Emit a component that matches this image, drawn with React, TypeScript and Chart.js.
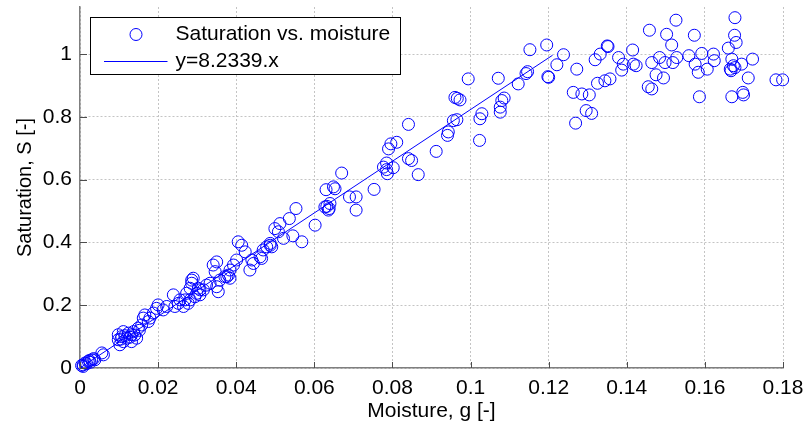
import React, { useEffect, useRef } from "react";
import { Chart, registerables } from "chart.js";

Chart.register(...registerables);

// Data
const moisture: number[] = [
  0.0004, 0.0008, 0.0008, 0.0013, 0.0017, 0.0021, 0.0024, 0.0026, 0.0030, 0.0035,
  0.0038, 0.0056, 0.0060, 0.0098, 0.0098, 0.0102, 0.0105, 0.0107, 0.0111, 0.0111,
  0.0115, 0.0120, 0.0124, 0.0128, 0.0132, 0.0132, 0.0137, 0.0140, 0.0145, 0.0149,
  0.0152, 0.0158, 0.0162, 0.0166, 0.0175, 0.0179, 0.0188, 0.0196, 0.0200, 0.0213,
  0.0222, 0.0239, 0.0243, 0.0252, 0.0256, 0.0265, 0.0269, 0.0273, 0.0277, 0.0282,
  0.0282, 0.0286, 0.0286, 0.0290, 0.0294, 0.0299, 0.0303, 0.0307, 0.0307, 0.0316,
  0.0324, 0.0333, 0.0341, 0.0346, 0.0350, 0.0350, 0.0354, 0.0358, 0.0371, 0.0376,
  0.0380, 0.0384, 0.0384, 0.0393, 0.0401, 0.0405, 0.0414, 0.0423, 0.0435, 0.0440,
  0.0444, 0.0461, 0.0465, 0.0469, 0.0478, 0.0487, 0.0487, 0.0491, 0.0499, 0.0508,
  0.0512, 0.0521, 0.0536, 0.0545, 0.0553, 0.0568, 0.0602, 0.0627, 0.0630, 0.0632,
  0.0636, 0.0638, 0.0640, 0.0649, 0.0653, 0.0670, 0.0690, 0.0707, 0.0707, 0.0753,
  0.0777, 0.0785, 0.0787, 0.0785, 0.0802, 0.0790, 0.0796, 0.0811, 0.0841, 0.0841,
  0.0849, 0.0866, 0.0912, 0.0941, 0.0943, 0.0956, 0.0965, 0.0960, 0.0966, 0.0973,
  0.0994, 0.1023, 0.1024, 0.1029, 0.1071, 0.1076, 0.1076, 0.1080, 0.1086, 0.1122,
  0.1142, 0.1146, 0.1152, 0.1195, 0.1198, 0.1200, 0.1221, 0.1238, 0.1272, 0.1263,
  0.1285, 0.1304, 0.1296, 0.1310, 0.1269, 0.1319, 0.1332, 0.1350, 0.1352, 0.1325,
  0.1344, 0.1357, 0.1379, 0.1391, 0.1387, 0.1415, 0.1424, 0.1417, 0.1458, 0.1464,
  0.1455, 0.1464, 0.1475, 0.1484, 0.1494, 0.1498, 0.1502, 0.1515, 0.1518, 0.1526,
  0.1528, 0.1559, 0.1573, 0.1575, 0.1583, 0.1586, 0.1592, 0.1606, 0.1622, 0.1624,
  0.1660, 0.1665, 0.1669, 0.1667, 0.1673, 0.1676, 0.1680, 0.1677, 0.1677, 0.1669,
  0.1694, 0.1697, 0.1699, 0.1711, 0.1722, 0.1782, 0.1799,
];

const saturation: number[] = [
  0.008, 0.005, 0.010, 0.016, 0.014, 0.021, 0.024, 0.018, 0.026, 0.030,
  0.026, 0.048, 0.042, 0.090, 0.106, 0.074, 0.092, 0.100, 0.084, 0.116,
  0.103, 0.095, 0.111, 0.098, 0.084, 0.106, 0.116, 0.105, 0.095, 0.127,
  0.120, 0.137, 0.159, 0.169, 0.148, 0.159, 0.175, 0.190, 0.201, 0.185,
  0.196, 0.233, 0.196, 0.206, 0.217, 0.196, 0.217, 0.238, 0.206, 0.217,
  0.254, 0.270, 0.280, 0.286, 0.227, 0.238, 0.254, 0.233, 0.249, 0.249,
  0.264, 0.270, 0.328, 0.307, 0.338, 0.259, 0.243, 0.280, 0.291, 0.291,
  0.296, 0.286, 0.312, 0.328, 0.344, 0.402, 0.391, 0.370, 0.312, 0.344,
  0.333, 0.354, 0.349, 0.376, 0.386, 0.397, 0.391, 0.386, 0.444, 0.434,
  0.460, 0.413, 0.476, 0.421, 0.508, 0.402, 0.455, 0.513, 0.568, 0.515,
  0.503, 0.508, 0.524, 0.577, 0.571, 0.621, 0.545, 0.545, 0.503, 0.569,
  0.640, 0.632, 0.619, 0.653, 0.638, 0.698, 0.714, 0.719, 0.776, 0.667,
  0.661, 0.616, 0.690, 0.741, 0.752, 0.788, 0.791, 0.862, 0.859, 0.854,
  0.921, 0.725, 0.794, 0.810, 0.923, 0.815, 0.831, 0.852, 0.860, 0.905,
  0.938, 0.944, 1.014, 1.029, 0.928, 0.926, 0.966, 0.998, 0.952, 0.878,
  0.873, 0.870, 0.820, 0.811, 0.780, 0.982, 1.000, 1.026, 1.024, 0.907,
  0.915, 0.921, 0.989, 0.968, 0.949, 1.013, 0.963, 0.968, 1.076, 0.973,
  0.896, 0.889, 0.934, 0.989, 0.924, 0.973, 1.063, 1.029, 0.973, 1.108,
  0.989, 0.995, 1.060, 0.968, 0.942, 0.864, 1.002, 0.952, 1.000, 0.979,
  1.019, 0.952, 0.984, 0.947, 0.963, 1.060, 1.037, 1.116, 0.957, 0.864,
  0.968, 0.878, 0.870, 0.924, 0.984, 0.918, 0.918,
];

const fitSlope = 8.2339;
const fitRange: number[] = [0, 0.121];

const xTickValues: number[] = [0, 0.02, 0.04, 0.06, 0.08, 0.1, 0.12, 0.14, 0.16, 0.18];
const yTickValues: number[] = [0, 0.2, 0.4, 0.6, 0.8, 1];

const scatterLabel = "Saturation vs. moisture";
const fitLabel = "y=8.2339.x";
const xTitle = "Moisture, g [-]";
const yTitle = "Saturation, S [-]";

const FONT = "'Liberation Sans', Arial, Helvetica, sans-serif";
const BLUE = "#0000ff";

const fmt = (v: number) => String(Number(Number(v).toFixed(3)));

const overlayPlugin = {
  id: "matlabOverlay",
  afterDraw(chart: any) {
    const { ctx, chartArea, scales } = chart;
    const { left, bottom } = chartArea;
    ctx.save();
    // inward tick marks
    ctx.strokeStyle = "#4d4d4d";
    ctx.lineWidth = 1;
    ctx.beginPath();
    xTickValues.forEach((v) => {
      const px = Math.round(scales.x.getPixelForValue(v)) + 0.5;
      ctx.moveTo(px, bottom);
      ctx.lineTo(px, bottom - 6);
    });
    yTickValues.forEach((v) => {
      const py = Math.round(scales.y.getPixelForValue(v)) + 0.5;
      ctx.moveTo(left, py);
      ctx.lineTo(left + 7, py);
    });
    ctx.stroke();

    // legend box
    const bx = left + 10.5;
    const by = chartArea.top + 10.5;
    const bw = 310;
    const bh = 57;
    ctx.fillStyle = "#ffffff";
    ctx.fillRect(bx, by, bw, bh);
    ctx.strokeStyle = "#000000";
    ctx.lineWidth = 1;
    ctx.strokeRect(bx, by, bw, bh);

    const row1 = by + 17;
    const row2 = by + 44;
    ctx.strokeStyle = BLUE;
    ctx.beginPath();
    ctx.arc(bx + 45.5, row1, 6, 0, Math.PI * 2);
    ctx.stroke();
    ctx.beginPath();
    ctx.moveTo(bx + 13.5, row2);
    ctx.lineTo(bx + 77, row2);
    ctx.stroke();

    ctx.fillStyle = "#000000";
    ctx.font = `21px ${FONT}`;
    ctx.textBaseline = "middle";
    ctx.textAlign = "left";
    ctx.fillText(scatterLabel, bx + 85, row1);
    ctx.fillText(fitLabel, bx + 85, row2);
    ctx.restore();
  },
};

export default function App() {
  const canvasRef = useRef<HTMLCanvasElement | null>(null);

  useEffect(() => {
    const canvas = canvasRef.current;
    if (!canvas) return;
    const points = moisture.map((x, i) => ({ x, y: saturation[i] }));
    const fitPoints = fitRange.map((x) => ({ x, y: fitSlope * x }));

    const chart = new Chart(canvas, {
      type: "scatter",
      data: {
        datasets: [
          {
            label: scatterLabel,
            data: points,
            pointStyle: "circle",
            pointRadius: 6,
            pointHoverRadius: 6,
            pointBorderWidth: 1,
            borderColor: BLUE,
            backgroundColor: "rgba(0,0,0,0)",
            showLine: false,
            clip: false as any,
          },
          {
            label: fitLabel,
            data: fitPoints,
            showLine: true,
            borderColor: BLUE,
            borderWidth: 1,
            pointRadius: 0,
            backgroundColor: BLUE,
          },
        ],
      },
      options: {
        animation: false,
        responsive: false,
        maintainAspectRatio: false,
        events: [],
        layout: { padding: { top: 6, right: 24, left: 0, bottom: 0 } },
        plugins: {
          legend: { display: false },
          tooltip: { enabled: false },
        },
        scales: {
          x: {
            type: "linear",
            min: 0,
            max: 0.18,
            afterBuildTicks: (s: any) => {
              s.ticks = xTickValues.map((value) => ({ value }));
            },
            afterFit: (s: any) => {
              s.height = 63;
              s.paddingLeft = 0;
              s.paddingRight = 0;
              s.paddingTop = 0;
              s.paddingBottom = 0;
            },
            ticks: {
              callback: (v: any) => fmt(v),
              font: { family: FONT, size: 21 },
              color: "#000000",
              padding: 8,
              maxRotation: 0,
              autoSkip: false,
              includeBounds: false,
            },
            grid: { color: "#c4c4c4", lineWidth: 1, drawTicks: false },
            border: { display: true, color: "#7f7f7f", width: 1.5, dash: [2, 2] },
            title: {
              display: true,
              text: xTitle,
              color: "#000000",
              font: { family: FONT, size: 21, lineHeight: 1 },
              padding: { top: 0, bottom: 9 },
            },
          },
          y: {
            type: "linear",
            min: 0,
            max: 1.15,
            afterBuildTicks: (s: any) => {
              s.ticks = yTickValues.map((value) => ({ value }));
            },
            afterFit: (s: any) => {
              s.width = 80;
              s.paddingLeft = 0;
              s.paddingRight = 0;
              s.paddingTop = 0;
              s.paddingBottom = 0;
            },
            ticks: {
              callback: (v: any) => fmt(v),
              font: { family: FONT, size: 21 },
              color: "#000000",
              padding: 8,
              autoSkip: false,
              includeBounds: false,
            },
            grid: { color: "#c4c4c4", lineWidth: 1, drawTicks: false },
            border: { display: true, color: "#7f7f7f", width: 1.5, dash: [2, 2] },
            title: {
              display: true,
              text: yTitle,
              color: "#000000",
              font: { family: FONT, size: 20, lineHeight: 1 },
              padding: { top: 15, bottom: 0 },
            },
          },
        },
      } as any,
      plugins: [overlayPlugin],
    });
    return () => chart.destroy();
  }, []);

  return (
    <div style={{ position: "fixed", left: 0, top: 0, width: 807, height: 431, background: "#ffffff" }}>
      <canvas ref={canvasRef} width={807} height={431} style={{ width: 807, height: 431 }} />
    </div>
  );
}
